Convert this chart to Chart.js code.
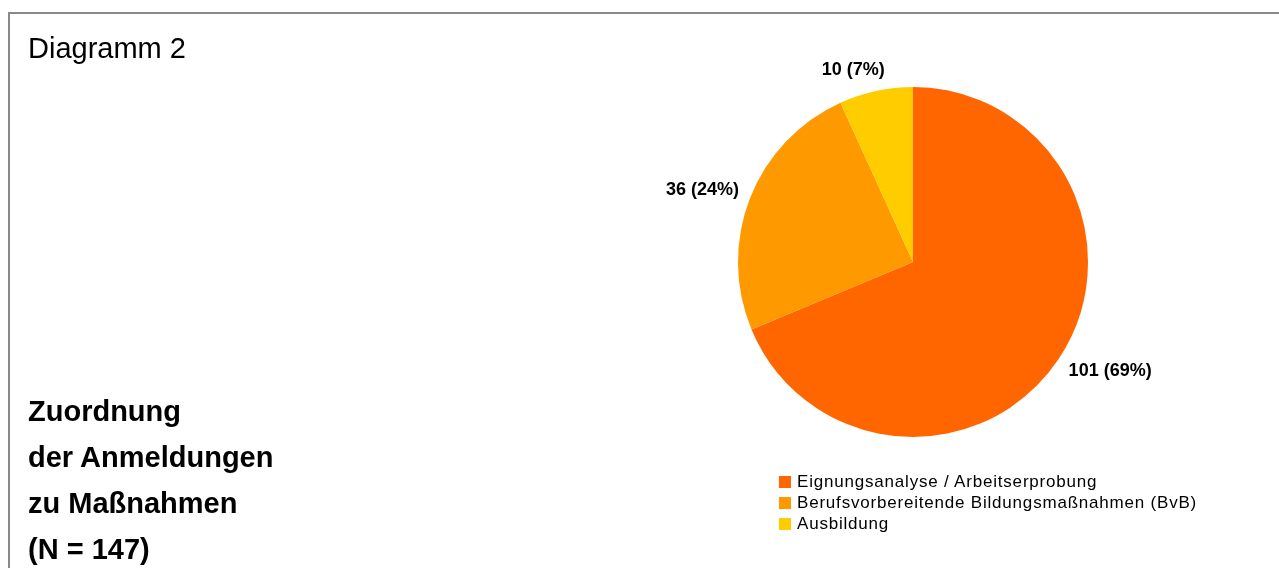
<!DOCTYPE html>
<html>
<head>
<meta charset="utf-8">
<script src="https://cdn.jsdelivr.net/npm/chart.js@4"></script>
<style>
  body { margin: 0; width: 1279px; height: 568px; overflow: hidden; background: #fff;
         font-family: "Liberation Sans", Arial, sans-serif; color: #000; }
  #frame { position: absolute; left: 8px; top: 12px; width: 1290px; height: 580px;
           border: 2px solid #8a8a8a; box-sizing: border-box; }
  #myChart { position: absolute; left: 0; top: 0; }
  .txt { position: absolute; white-space: nowrap; }
  #diagTitle { left: 28px; top: 32px; font-size: 29px; line-height: 32px; }
  #sideTitle { left: 28px; top: 388px; font-size: 29px; font-weight: bold; line-height: 46px; }
  #legend { position: absolute; left: 779px; top: 471px; font-size: 17px; line-height: 21px; letter-spacing: 0.8px; }
  #legend .sw { display: inline-block; width: 12px; height: 12px; margin-right: 6px; vertical-align: -1px; }
</style>
</head>
<body>
<div id="frame"></div>
<canvas id="myChart" width="1279" height="568"></canvas>
<div id="diagTitle" class="txt">Diagramm 2</div>
<div id="sideTitle" class="txt"></div>
<div id="legend" class="txt"></div>

<script>
// chart data
const categories = ['Eignungsanalyse / Arbeitserprobung', 'Berufsvorbereitende Bildungsmaßnahmen (BvB)', 'Ausbildung'];
const counts = [101, 36, 10];
const sliceColors = ['#FF6600', '#FF9900', '#FFCC00'];
const titleLines = ['Zuordnung', 'der Anmeldungen', 'zu Maßnahmen', '(N = 147)'];

const total = counts.reduce((a, b) => a + b, 0);

// side title and legend
document.getElementById('sideTitle').innerHTML = titleLines.join('<br>');
document.getElementById('legend').innerHTML = categories.map((c, i) =>
  '<div><span class="sw" style="background:' + sliceColors[i] + '"></span>' + c + '</div>').join('');

// Draws "count (pct%)" outside each slice
const outsideLabels = {
  id: 'outsideLabels',
  afterDatasetsDraw(chart) {
    const ctx = chart.ctx;
    const arcs = chart.getDatasetMeta(0).data;
    ctx.save();
    ctx.font = 'bold 18px "Liberation Sans", Arial, sans-serif';
    ctx.fillStyle = '#000';
    ctx.textAlign = 'center';
    ctx.textBaseline = 'middle';
    arcs.forEach((arc, i) => {
      const p = arc.getProps(['x', 'y', 'startAngle', 'endAngle', 'outerRadius'], true);
      const mid = (p.startAngle + p.endAngle) / 2;
      const text = counts[i] + ' (' + Math.round(counts[i] / total * 100) + '%)';
      const w = ctx.measureText(text).width;
      const dist = p.outerRadius + 12;
      const cos = Math.cos(mid), sin = Math.sin(mid);
      // push the box outward, sideways more when the slice points left/right
      const side = Math.max(-1, Math.min(1, cos * 3));
      const x = p.x + cos * dist + side * w / 2;
      const y = p.y + sin * dist + sin * 9;
      ctx.fillText(text, x, y);
    });
    ctx.restore();
  }
};

window.onload = function() {
  const ctx = document.getElementById('myChart').getContext('2d');
  new Chart(ctx, {
    type: 'pie',
    data: {
      labels: categories,
      datasets: [{
        data: counts,
        backgroundColor: sliceColors,
        borderWidth: 0,
        hoverOffset: 0
      }]
    },
    options: {
      responsive: false,
      animation: false,
      layout: { padding: { left: 738, right: 191, top: 87, bottom: 131 } },
      plugins: {
        legend: { display: false },
        tooltip: { enabled: false }
      }
    },
    plugins: [outsideLabels]
  });
};
</script>
</body>
</html>
